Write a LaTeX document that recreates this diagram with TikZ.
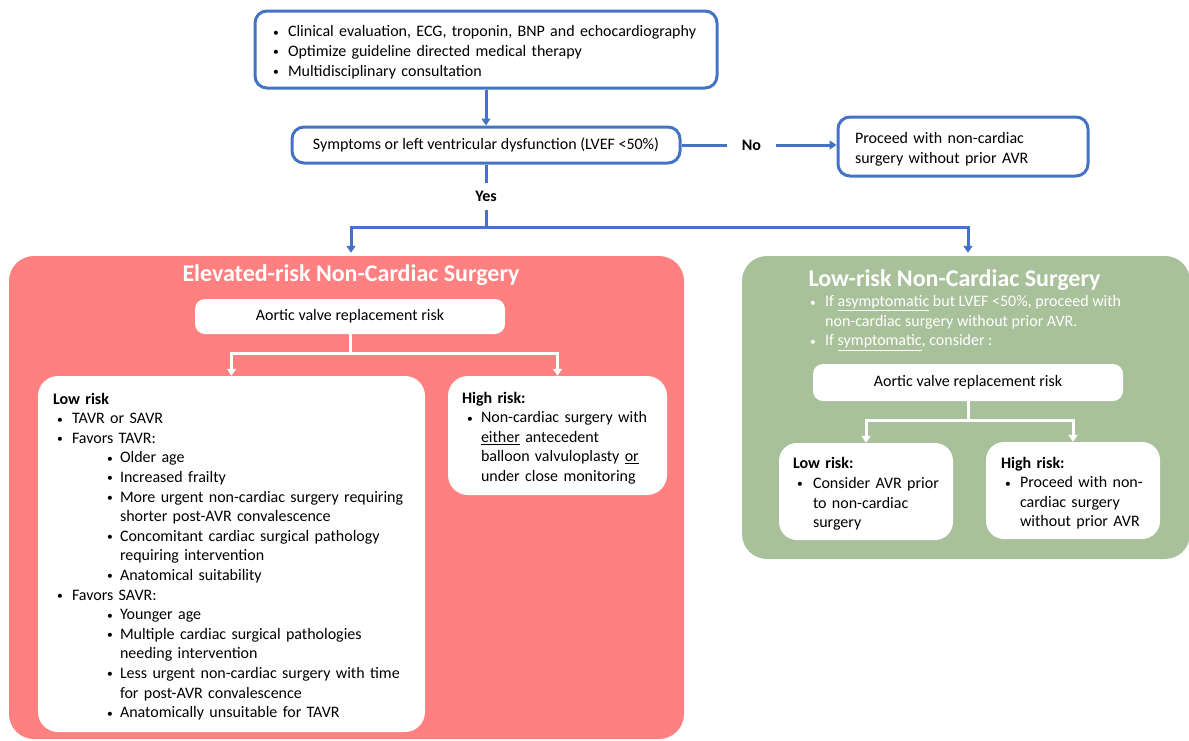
\documentclass[tikz,border=0pt]{standalone}
\usepackage{fontspec}
\setmainfont{Carlito}
\usetikzlibrary{arrows.meta,calc}
\definecolor{myblue}{HTML}{4472C4}
\definecolor{myred}{HTML}{FF8080}
\definecolor{mygreen}{HTML}{A9C19A}
\newcommand\body{\fontsize{16}{19.6}\selectfont}
\newcommand\ttl{\fontsize{24}{28}\selectfont\bfseries}
\newcommand\bdot{\raisebox{0.6pt}{\scalebox{0.72}{\textbullet}}}
\newcommand\sx{\rule{0pt}{16.5pt}}
\newcommand\bul{\makebox[15pt][l]{\bdot}}
\newcommand\ia[1]{\mbox{\hspace*{4pt}\makebox[15pt][l]{\bdot}#1}}
\newcommand\ib[1]{\mbox{\hspace*{54pt}\makebox[13pt][l]{\bdot}#1}}
\newcommand\ibc[1]{\mbox{\hspace*{67pt}#1}}
\tikzset{
  bbox/.style={draw=myblue, line width=3pt, rounded corners=12pt, fill=white, font=\body},
  wbox/.style={fill=white, draw=none, font=\body},
  bline/.style={draw=myblue, line width=3pt},
  barrow/.style={bline, -{Triangle[length=7pt,width=9pt]}},
  wline/.style={draw=white, line width=3pt},
  warrow/.style={wline, -{Triangle[length=7pt,width=9pt]}},
  lbl/.style={font=\body\bfseries, inner sep=0pt},
}
\begin{document}
\begin{tikzpicture}[x=1pt,y=-1pt]
\useasboundingbox (0,0) rectangle (1189,740);
% top
\node[bbox, minimum width=462pt, minimum height=77pt, text width=426pt, inner xsep=18pt, align=left] (top) at (486,49.5)
 {\sx\bul Clinical evaluation, ECG, troponin, BNP and echocardiography\\
  \bul Optimize guideline directed medical therapy\\
  \bul Multidisciplinary consultation};
\node[bbox, minimum width=388pt, minimum height=36pt] (q) at (486,145)
 {Symptoms or left ventricular dysfunction (LVEF <50\%)};
\node[bbox, minimum width=250pt, minimum height=59pt, text width=216pt, inner xsep=17pt, align=left] (p) at (963,146.5)
 {\sx Proceed with non-cardiac\\surgery without prior AVR};
\node[lbl, inner xsep=0pt, minimum width=49pt] (no) at (751.5,145) {No};
\node[lbl, minimum height=27pt] (yes) at (486,196.5) {Yes};
\coordinate (j) at (486,227);
\draw[barrow] (top.south) -- (q.north);
\draw[bline] (q.east) -- (no.west);
\draw[barrow] (no.east) -- (no.east -| p.west);
\draw[bline] (q.south) -- (yes.north);
\draw[bline] (yes.south) -- (j);

% red panel
\node[fill=myred, rounded corners=25pt, minimum width=675pt, minimum height=483pt, inner sep=0pt] (red) at (346.5,497.5) {};
\node[text=white, font=\ttl, inner sep=0pt] (rt) at (351,275) {Elevated-risk Non-Cardiac Surgery};
\node[wbox, rounded corners=10pt, minimum width=310pt, minimum height=35pt] (ra) at (350,316.5) {Aortic valve replacement risk};
\node[wbox, rounded corners=20pt, minimum width=387pt, minimum height=356pt, text width=357pt, inner xsep=15pt, align=left] (ll) at (231.5,554)
 {\sx\textbf{Low risk}\\
  \ia{TAVR or SAVR}\\
  \ia{Favors TAVR:}\\
  \ib{Older age}\\
  \ib{Increased frailty}\\
  \ib{More urgent non-cardiac surgery requiring}\\
  \ibc{shorter post-AVR convalescence}\\
  \ib{Concomitant cardiac surgical pathology}\\
  \ibc{requiring intervention}\\
  \ib{Anatomical suitability}\\
  \ia{Favors SAVR:}\\
  \ib{Younger age}\\
  \ib{Multiple cardiac surgical pathologies}\\
  \ibc{needing intervention}\\
  \ib{Less urgent non-cardiac surgery with time}\\
  \ibc{for post-AVR convalescence}\\
  \ib{Anatomically unsuitable for TAVR}};
\node[wbox, rounded corners=20pt, minimum width=219pt, minimum height=119pt, text width=191pt, inner xsep=14pt, align=left] (lh) at (557.5,435.5)
 {\sx\textbf{High risk:}\\
  \mbox{\hspace*{5pt}\makebox[14pt][l]{\bdot}Non-cardiac surgery with}\\
  \mbox{\hspace*{19pt}\underline{either} antecedent}\\
  \mbox{\hspace*{19pt}balloon valvuloplasty \underline{or}}\\
  \mbox{\hspace*{19pt}under close monitoring}};
\coordinate (j2) at (350,353);
\draw[wline] (ra.south) -- (j2);
\draw[warrow] (j2) -| (ll.north);
\draw[warrow] (j2) -| (lh.north);

% green panel
\node[fill=mygreen, rounded corners=25pt, minimum width=448pt, minimum height=303pt, inner sep=0pt] (green) at (966,407.5) {};
\node[text=white, font=\ttl, inner sep=0pt] (gt) at (954.5,280) {Low-risk Non-Cardiac Surgery};
\node[text=white, font=\body, align=left, inner sep=0pt, anchor=west] (gb) at (810,323)
 {\bul If \underline{asymptomatic} but LVEF <50\%, proceed with\\
  \hspace*{15pt}non-cardiac surgery without prior AVR.\\
  \bul If \underline{symptomatic}, consider :};
\node[wbox, rounded corners=10pt, minimum width=310pt, minimum height=37pt] (ga) at (968,382.5) {Aortic valve replacement risk};
\node[wbox, rounded corners=18pt, minimum width=174pt, minimum height=97pt, text width=146pt, inner xsep=14pt, align=left] (gl) at (866,491.5)
 {\sx\textbf{Low risk:}\\
  \mbox{\hspace*{4pt}\makebox[16pt][l]{\bdot}Consider AVR prior}\\
  \mbox{\hspace*{20pt}to non-cardiac}\\
  \mbox{\hspace*{20pt}surgery}};
\node[wbox, rounded corners=18pt, minimum width=174pt, minimum height=97pt, text width=144pt, inner xsep=15pt, align=left] (gh) at (1073,490.5)
 {\sx\textbf{High risk:}\\
  \mbox{\hspace*{4pt}\makebox[15pt][l]{\bdot}Proceed with non-}\\
  \mbox{\hspace*{19pt}cardiac surgery}\\
  \mbox{\hspace*{19pt}without prior AVR}};
\coordinate (j3) at (968,420);
\draw[wline] (ga.south) -- (j3);
\draw[warrow] (j3) -| (gl.north);
\draw[warrow] (j3) -| (gh.north);

% branch arrows
\draw[barrow, shorten >=3pt] (j) -| (rt.north |- red.north);
\draw[barrow, shorten >=3pt] (j) -| (ga.north |- green.north);
\end{tikzpicture}
\end{document}
